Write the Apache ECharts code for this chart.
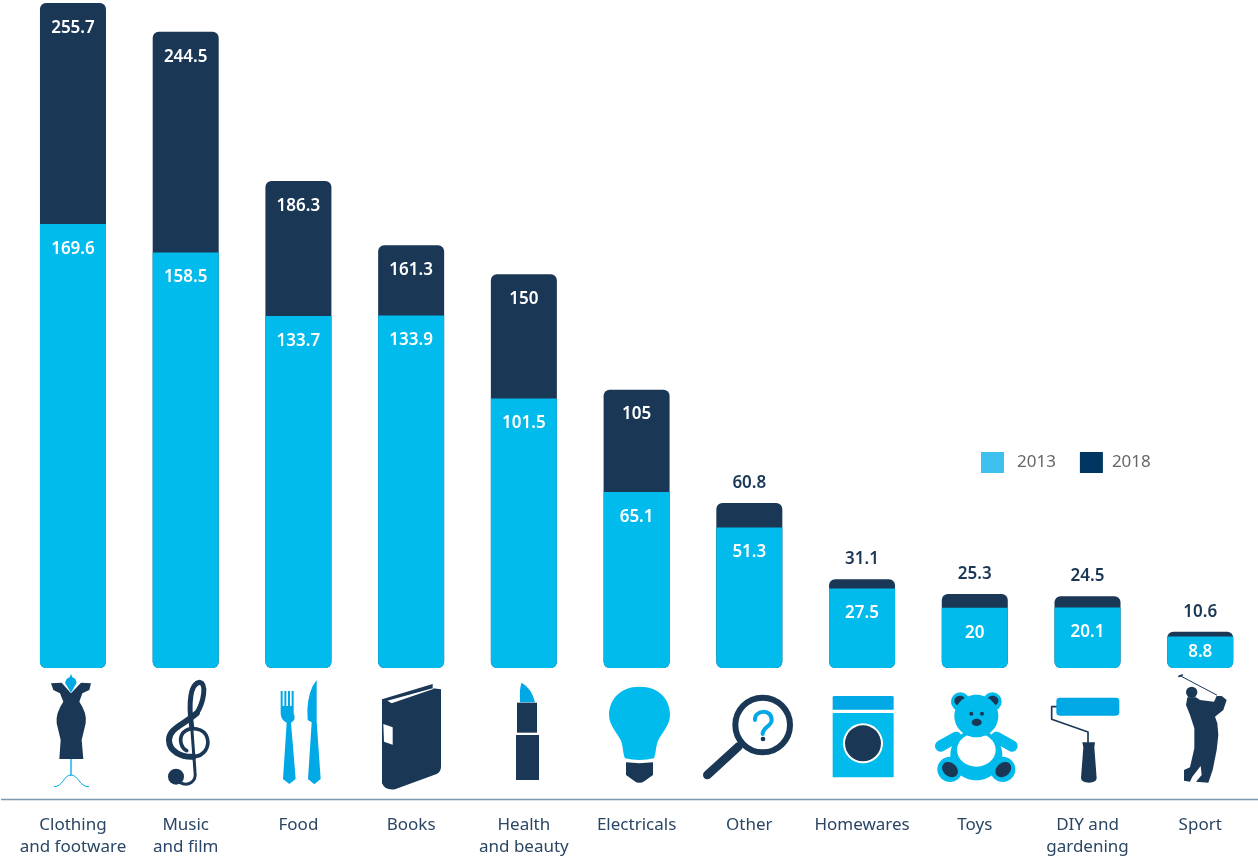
<!DOCTYPE html>
<html>
<head>
<meta charset="utf-8">
<title>Online sales by category</title>
<style>
    html,body{margin:0;padding:0;background:#fff;}
    #chart{width:1258px;height:856px;}
</style>
<script src="https://cdn.jsdelivr.net/npm/echarts@6/dist/echarts.min.js"></script>
</head>
<body>
<div id="chart"></div>
<script>
//---data
var categories = ["Clothing\nand footware","Music\nand film","Food","Books","Health\nand beauty","Electricals","Other","Homewares","Toys","DIY and\ngardening","Sport"];
var values2013 = [169.6,158.5,133.7,133.9,101.5,65.1,51.3,27.5,20,20.1,8.8];
var values2018 = [255.7,244.5,186.3,161.3,150,105,60.8,31.1,25.3,24.5,10.6];

var DARK = "#1b3756";
var LIGHT = "#00bbeb";
var MID = "#00a9e5";
var TEXT = "#2a4664";
var FONT = '"Noto Sans","Open Sans",sans-serif';
var AXIS_MIN = -3.5;//---the bars stand a little higher than zero in the picture
var BAR_W = 66;

//---one bar + its number
function barRenderer(colorName){
    return function(params,api){
        var i = params.dataIndex;
        var top = api.coord([api.value(0),api.value(1)]);
        var base = api.coord([api.value(0),AXIS_MIN]);
        var isNew = colorName === "2018";
        var outside = isNew && values2018[i] - values2013[i] < 15;//---thin cap, number goes above it
        var h = base[1] - top[1];
        var labelY = outside ? top[1] - 20 : top[1] + Math.min(25,h / 2);
        return {
            type:"group",
            children:[
                {
                    type:"rect",
                    shape:{x:top[0] - BAR_W / 2,y:top[1],width:BAR_W,height:h,r:isNew ? [6,6,6,6] : [0,0,6,6]},
                    style:{fill:isNew ? DARK : LIGHT}
                },
                {
                    type:"text",
                    z2:10,
                    style:{
                        text:String(api.value(1)),
                        x:top[0],
                        y:labelY,
                        align:"center",
                        verticalAlign:"middle",
                        fill:outside ? DARK : "#fff",
                        font:'600 17px ' + FONT
                    }
                }
            ]
        };
    };
}

function fillPath(d,color){
    return {type:"path",shape:{pathData:d},style:{fill:color}};
}
function linePath(d,color,w){
    return {type:"path",shape:{pathData:d},style:{fill:"none",stroke:color,lineWidth:w,lineCap:"round",lineJoin:"round"}};
}
function circle(cx,cy,r,color){
    return {type:"circle",shape:{cx:cx,cy:cy,r:r},style:{fill:color}};
}
function oval(cx,cy,rx,ry,color,rot){
    return {type:"ellipse",shape:{cx:cx,cy:cy,rx:rx,ry:ry},originX:cx,originY:cy,rotation:rot || 0,style:{fill:color}};
}
function box(x,y,w,h,r,color){
    return {type:"rect",shape:{x:x,y:y,width:w,height:h,r:r},style:{fill:color}};
}
//---icons are drawn at 3x, so they are wrapped in a group scaled by 1/3
function iconGroup(x,y,children){
    return {type:"group",x:x,y:y,scaleX:1 / 3,scaleY:1 / 3,children:children};
}

function iconRenderer(){
    var iconsLeft = iconGroup(0,660,[
        //---dress
        linePath("M213 297 L213 345",MID,4),
        linePath("M163 380 C190 380 190 345 213 345 C236 345 236 380 266 380",MID,3),
        fillPath("M153 70 L185 68 L213 100 L243 68 L273 70 L268 90 L247 100 L238 125 Q262 160 257 190 L245 240 L250 297 L178 297 L182 240 L170 190 Q166 160 190 125 L180 100 L160 90 Z",DARK),
        fillPath("M200 56 L209 52 L213 42 L217 52 L226 56 L230 68 L213 98 L195 68 Z",MID),
        //---treble clef
        linePath("M540 368 C565 380 590 365 585 335 L575 200",DARK,9),
        linePath("M575 200 C565 130 570 70 600 67 C620 72 612 125 590 160",DARK,15),
        linePath("M590 160 C550 195 507 205 507 240 C507 275 545 292 580 290",DARK,18),
        linePath("M580 290 C615 288 628 260 622 235 C615 205 570 195 548 220 C535 240 545 265 560 272",DARK,11),
        circle(528,350,24,DARK),
        //---fork
        fillPath("M842 93 h6 v45 h5 V93 h6 v45 h5 V93 h6 v45 h5 V93 h6 V160 Q890 180 873 188 L887 357 L868 372 L849 357 L860 188 Q842 180 842 160 Z",MID),
        //---knife
        fillPath("M950 60 Q925 90 922 150 L923 180 L935 187 L924 357 L943 373 L962 357 L950 185 Z",MID)
    ]);

    var iconsMid = iconGroup(340,660,[
        //---book
        fillPath("M126 118 L278 72 L278 85 L303 88 L303 320 Q303 335 290 342 L165 388 Q135 392 126 370 Z",DARK),
        fillPath("M142 122 L278 85 L282 86 L155 130 Z","#fff"),
        fillPath("M130 192 L158 202 L158 254 L132 245 Z","#fff"),
        //---lipstick
        fillPath("M540 127 Q538 80 545 68 Q575 85 585 127 Z",MID),
        box(531,128,60,90,0,DARK),
        box(528,225,69,135,0,DARK),
        //---bulb
        fillPath("M898 80 C960 80 990 120 990 165 C990 195 965 220 955 240 C947 258 948 280 942 295 Q898 305 855 295 C848 280 850 258 842 240 C832 220 807 195 807 165 C807 120 840 80 898 80 Z",LIGHT),
        fillPath("M858 307 Q898 312 939 307 L939 345 L915 362 Q898 375 882 362 L858 345 Z",DARK)
    ]);

    var iconsRight = iconGroup(680,660,[
        //---magnifier
        linePath("M175 260 L82 345",DARK,26),
        {type:"circle",shape:{cx:248,cy:195,r:82},style:{fill:"#fff",stroke:DARK,lineWidth:18}},
        linePath("M225 180 C222 150 275 145 275 180 C275 200 248 200 248 222",MID,12),
        circle(249,237,7,DARK),
        //---washing machine
        box(458,108,183,41,[4,4,0,0],MID),
        box(458,159,183,193,[3,3,0,0],LIGHT),
        circle(549,250,60,"#fff"),
        circle(549,250,54,DARK)
    ]);

    var iconsFar = iconGroup(960,660,[
        //---teddy
        linePath("M110 232 L156 258",LIGHT,34),
        linePath("M-12 232 L-58 258",LIGHT,34),
        oval(49,285,78,76,LIGHT),
        circle(128,328,38,LIGHT),
        circle(-30,328,38,LIGHT),
        oval(130,329,26,20,DARK,0.7),
        oval(-30,329,26,20,DARK,-0.7),
        oval(49,270,58,50,"#fff"),
        circle(97,125,28,LIGHT),
        circle(1,125,28,LIGHT),
        oval(98,122,17,15,DARK,0),
        oval(0,122,17,15,DARK,0),
        oval(49,168,66,64,LIGHT),
        circle(34,161,6,DARK),
        circle(66,161,6,DARK),
        oval(50,187,15,11,DARK),
        //---paint roller
        linePath("M289 140 L275 140 L275 178 L384 216 L384 247",DARK,5),
        box(289,113,189,54,10,MID),
        fillPath("M367 247 L405 247 L403 262 L410 355 Q408 368 387 368 Q365 368 363 355 L370 262 Z",DARK),
        //---golfer
        linePath("M660 47 L770 105",DARK,3),
        linePath("M657 49 L667 45",DARK,5),
        circle(695,97,17,DARK),
        fillPath("M682 112 L678 135 L690 165 L703 205 L703 265 L690 322 L672 330 L672 362 L690 365 L697 350 L722 318 L725 345 L708 365 L745 368 L758 330 L770 270 L775 225 L772 190 L765 170 L790 150 L800 120 L785 108 L770 108 L762 125 L720 120 L708 112 Z",DARK)
    ]);
    return {type:"group",children:[iconsLeft,iconsMid,iconsRight,iconsFar]};
}

var myChart = echarts.init(document.getElementById("chart"));
var option = {
    backgroundColor:"#fff",
    animation:false,
    grid:{left:16.6,right:1.4,top:3,bottom:188,outerBoundsMode:"none"},
    legend:{
        left:981,
        top:452,
        padding:0,
        itemWidth:23,
        itemHeight:21,
        itemGap:24,
        selectedMode:false,
        icon:"rect",
        textStyle:{color:"#666",fontSize:17,fontFamily:FONT},
        data:[
            {name:"2013",itemStyle:{color:"#3fc1f0"},textStyle:{padding:[0,0,0,8]}},
            {name:"2018",itemStyle:{color:"#00365f"},textStyle:{padding:[0,0,0,4]}}
        ]
    },
    xAxis:{
        type:"category",
        data:categories,
        axisLine:{show:false},
        axisTick:{show:false},
        axisLabel:{interval:0,margin:146,lineHeight:22,color:TEXT,fontSize:17,fontFamily:FONT}
    },
    yAxis:{
        type:"value",
        min:AXIS_MIN,
        max:255.7,
        show:false
    },
    series:[
        {
            name:"2018",
            type:"custom",
            renderItem:barRenderer("2018"),
            encode:{x:0,y:1},
            clip:false,
            data:values2018.map(function(v,i){return [i,v];})
        },
        {
            name:"2013",
            type:"custom",
            renderItem:barRenderer("2013"),
            encode:{x:0,y:1},
            clip:false,
            data:values2013.map(function(v,i){return [i,v];})
        },
        {
            name:"icons",
            type:"custom",
            coordinateSystem:"none",
            silent:true,
            renderItem:iconRenderer,
            data:[[0]]
        }
    ],
    graphic:{
        elements:[
            {type:"line",shape:{x1:1,y1:799.5,x2:1258,y2:799.5},style:{stroke:"#7d97ad",lineWidth:1.5},silent:true}
        ]
    }
};
myChart.setOption(option);
</script>
</body>
</html>
